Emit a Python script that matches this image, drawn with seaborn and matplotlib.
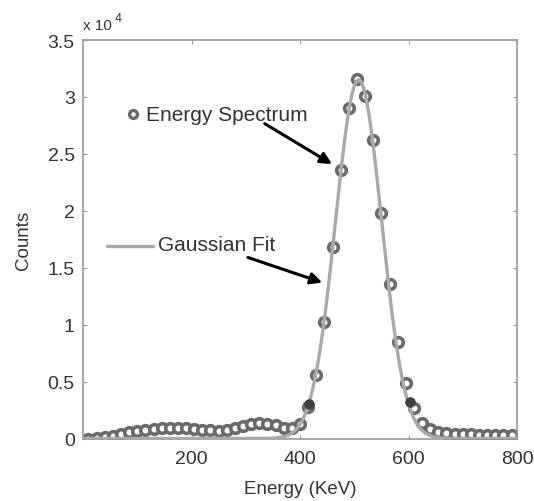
import numpy as np
import matplotlib
matplotlib.use("Agg")
import matplotlib.pyplot as plt
import seaborn as sns

# ---- data (counts in units of 10^4) ----
energy = [10, 25, 40, 55, 70, 85, 100, 115, 130, 145, 160, 175, 190, 205, 220,
          235, 250, 265, 280, 295, 310, 325, 340, 355, 370, 385, 400, 415, 430,
          445, 460, 475, 490, 505, 520, 535, 550, 565, 580, 595, 610, 625, 640,
          655, 670, 685, 700, 715, 730, 745, 760, 775, 790]
counts = [0.00, 0.005, 0.012, 0.025, 0.04, 0.054, 0.068, 0.077, 0.083, 0.089,
          0.092, 0.092, 0.089, 0.083, 0.077, 0.072, 0.070, 0.075, 0.090, 0.110,
          0.125, 0.133, 0.130, 0.115, 0.095, 0.090, 0.130, 0.28, 0.56, 1.02,
          1.68, 2.36, 2.90, 3.16, 3.01, 2.62, 1.98, 1.36, 0.85, 0.49, 0.27,
          0.14, 0.08, 0.055, 0.045, 0.04, 0.04, 0.04, 0.035, 0.035, 0.03,
          0.03, 0.03]
# Gaussian fit parameters
fit_amp = 3.15
fit_mu = 508
fit_sigma = 42.5
# fit-range end points (dark filled markers)
edge_x = [417, 603]
edge_y = [0.30, 0.32]

xticks = [200, 400, 600, 800]
yticks = [0, 0.5, 1, 1.5, 2, 2.5, 3, 3.5]
ytick_labels = ["0", "0.5", "1", "1.5", "2", "2.5", "3", "3.5"]

sns.set_theme(style="white")
plt.rcParams["font.family"] = ["Liberation Sans", "DejaVu Sans"]

W, H = 534, 502
fig = plt.figure(figsize=(W / 100, H / 100), dpi=100)
ax = fig.add_axes([83 / W, (H - 439.5) / H, 434 / W, 398.5 / H])

txt = "#333333"
spine = "#9a9a9a"
marker_edge = "#6a6a6a"
line_col = "#a9a9a9"

fit_x = np.linspace(0, 800, 1601)
fit_y = fit_amp * np.exp(-(fit_x - fit_mu) ** 2 / (2 * fit_sigma ** 2))

sns.scatterplot(x=energy, y=counts, ax=ax, marker="o", s=48,
                facecolor="white", edgecolor=marker_edge, linewidth=2.6,
                zorder=2, legend=False)
sns.lineplot(x=fit_x, y=fit_y, ax=ax, color=line_col, linewidth=2.4,
             zorder=3, legend=False)
sns.scatterplot(x=edge_x, y=edge_y, ax=ax, marker="o", s=50,
                color="#404040", edgecolor="#404040", linewidth=0.5,
                zorder=4, legend=False)

ax.set_xlim(0, 800)
ax.set_ylim(0, 3.5)
ax.set_xticks(xticks)
ax.set_yticks(yticks)
ax.set_yticklabels(ytick_labels)
ax.tick_params(direction="in", length=3, width=0.8, color=spine,
               labelsize=14, labelcolor=txt, top=True, right=True,
               bottom=True, left=True)
ax.tick_params(axis="x", pad=8)
ax.tick_params(axis="y", pad=6)
for s in ax.spines.values():
    s.set_color(spine)
    s.set_linewidth(1.2)

ax.set_xlabel("Energy (KeV)", fontsize=13.5, color=txt, labelpad=10)
ax.set_ylabel("Counts", fontsize=13.5, color=txt, labelpad=11)

# legend-like annotations
ax.scatter([91.6], [2.85], marker="o", s=32, facecolor="white",
           edgecolor=marker_edge, linewidth=2.4, zorder=5)
ax.text(117, 2.85, "Energy Spectrum", fontsize=15, color=txt,
        va="center", ha="left")
ax.plot([44, 129], [1.693, 1.693], color=line_col, linewidth=2.4)
ax.text(138.5, 1.70, "Gaussian Fit", fontsize=15, color=txt,
        va="center", ha="left")

arrow = dict(arrowstyle="-|>", color="black", lw=2.2, mutation_scale=17,
             shrinkA=0, shrinkB=0)
ax.annotate("", xy=(459, 2.41), xytext=(335, 2.765), arrowprops=arrow)
ax.annotate("", xy=(441, 1.37), xytext=(304, 1.59), arrowprops=arrow)

# multiplier
fig.text(83 / W, (H - 30) / H, "x 10", fontsize=11, color=txt,
         ha="left", va="baseline")
fig.text(115 / W, (H - 22) / H, "4", fontsize=9, color=txt,
         ha="left", va="baseline")

fig.savefig("out.png", dpi=100)
